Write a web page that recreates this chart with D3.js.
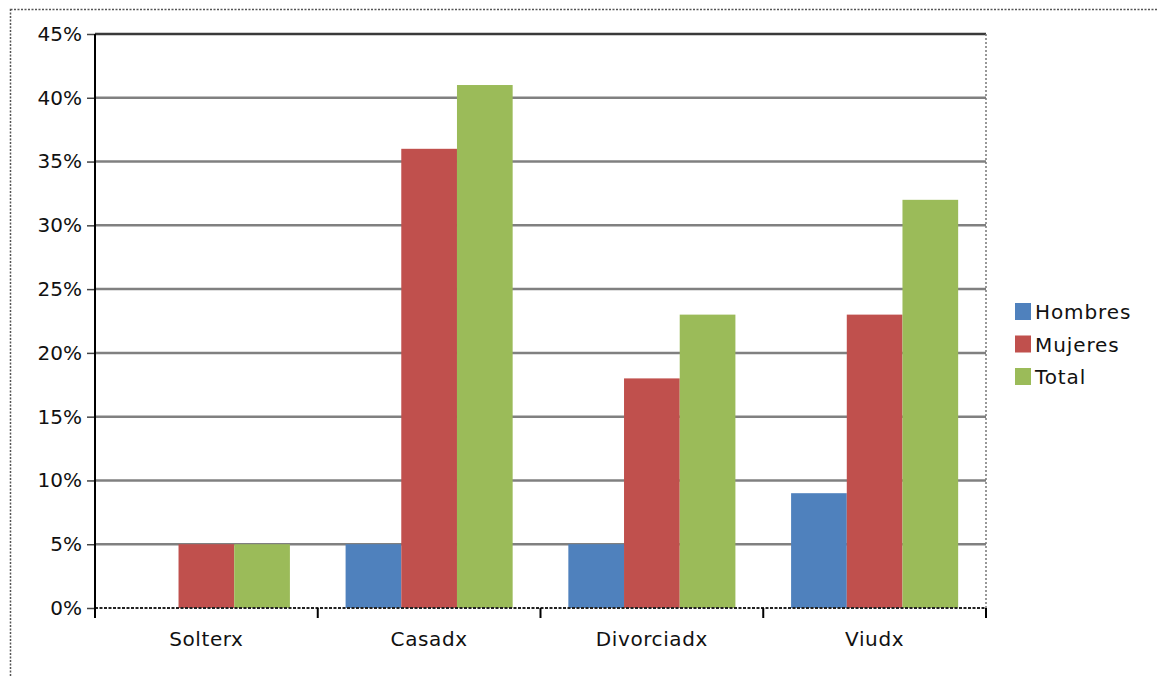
<!DOCTYPE html>
<html>
<head>
<meta charset="utf-8">
<script src="https://cdn.jsdelivr.net/npm/d3@7"></script>
<style>
  html, body { margin: 0; padding: 0; background: #fff; }
  svg { display: block; }
  text { font-family: "DejaVu Sans", Verdana, sans-serif; fill: #111; }
</style>
</head>
<body>
<svg id="chart" width="1157" height="677"></svg>
<script>
// Marital status categories and the share of each group, in percent
const categories = ["Solterx", "Casadx", "Divorciadx", "Viudx"];
const seriesNames = ["Hombres", "Mujeres", "Total"];
const hombres = [0, 5, 5, 9];
const mujeres = [5, 36, 18, 23];
const total   = [5, 41, 23, 32];
const yTicks  = [0, 5, 10, 15, 20, 25, 30, 35, 40, 45];
const colors  = ["#4F81BD", "#C0504D", "#9BBB59"];

const seriesValues = [hombres, mujeres, total];
const rows = categories.map((c, i) => ({
  category: c,
  values: seriesNames.map((s, j) => ({ series: s, value: seriesValues[j][i], color: colors[j] }))
}));

const svg = d3.select("#chart");
const plot = { left: 95, right: 986, top: 34, bottom: 608 };

// Outer chart frame (dotted)
svg.append("rect")
  .attr("x", 10.5).attr("y", 9.5)
  .attr("width", 1160).attr("height", 680)
  .attr("fill", "none")
  .attr("stroke", "#555")
  .attr("stroke-width", 1.5)
  .attr("stroke-dasharray", "2,1.5");

const x = d3.scaleBand()
  .domain(categories)
  .range([plot.left, plot.right])
  .paddingInner(0).paddingOuter(0);

const inner = d3.scaleBand()
  .domain(seriesNames)
  .range([x.bandwidth() / 8, x.bandwidth() * 7 / 8])
  .padding(0);

const y = d3.scaleLinear().domain([0, 45]).range([plot.bottom, plot.top]);

// Horizontal gridlines
svg.append("g")
  .selectAll("line")
  .data(yTicks.filter(t => t > 0))
  .join("line")
  .attr("x1", plot.left).attr("x2", plot.right)
  .attr("y1", d => y(d)).attr("y2", d => y(d))
  .attr("stroke", d => d === 45 ? "#3a3a3a" : "#808080")
  .attr("stroke-width", 2.5);

// Right edge of the plot area (dotted)
svg.append("line")
  .attr("x1", plot.right).attr("x2", plot.right)
  .attr("y1", plot.top).attr("y2", plot.bottom)
  .attr("stroke", "#777")
  .attr("stroke-width", 1.5)
  .attr("stroke-dasharray", "2,2");

// Bars
svg.append("g")
  .selectAll("g")
  .data(rows)
  .join("g")
  .attr("transform", d => `translate(${x(d.category)},0)`)
  .selectAll("rect")
  .data(d => d.values)
  .join("rect")
  .attr("x", d => inner(d.series))
  .attr("width", inner.bandwidth())
  .attr("y", d => y(d.value))
  .attr("height", d => y(0) - y(d.value))
  .attr("fill", d => d.color);

// Baseline (dotted)
svg.append("line")
  .attr("x1", plot.left).attr("x2", plot.right)
  .attr("y1", plot.bottom).attr("y2", plot.bottom)
  .attr("stroke", "#222")
  .attr("stroke-width", 2)
  .attr("stroke-dasharray", "3,1.5");

// Y axis
const yAxis = svg.append("g")
  .attr("transform", `translate(${plot.left},0)`)
  .call(d3.axisLeft(y).tickValues(yTicks).tickFormat(d => d + "%").tickSize(8).tickPadding(5));
yAxis.select(".domain").remove();
yAxis.selectAll(".tick line").attr("stroke", "#444").attr("stroke-width", 1.5);
yAxis.selectAll(".tick text")
  .attr("font-size", 20)
  .attr("font-family", "DejaVu Sans, Verdana, sans-serif")
  .attr("fill", "#111");
yAxis.append("line")
  .attr("x1", 0).attr("x2", 0)
  .attr("y1", plot.top).attr("y2", plot.bottom + 10)
  .attr("stroke", "#000").attr("stroke-width", 2);

// X axis tick marks at category boundaries
const bounds = categories.map(c => x(c) + x.bandwidth());
svg.append("g")
  .selectAll("line")
  .data(bounds)
  .join("line")
  .attr("x1", d => d).attr("x2", d => d)
  .attr("y1", plot.bottom).attr("y2", plot.bottom + 10)
  .attr("stroke", "#000").attr("stroke-width", 2);

// X category labels
svg.append("g")
  .selectAll("text")
  .data(categories)
  .join("text")
  .attr("x", d => x(d) + x.bandwidth() / 2)
  .attr("y", 646)
  .attr("text-anchor", "middle")
  .attr("font-size", 20)
  .attr("letter-spacing", 0.6)
  .text(d => d);

// Legend
const legend = svg.append("g").attr("transform", "translate(1015,303)");
const item = legend.selectAll("g")
  .data(seriesNames)
  .join("g")
  .attr("transform", (d, i) => `translate(0,${i * 32.5})`);
item.append("rect")
  .attr("width", 16).attr("height", 17)
  .attr("fill", (d, i) => colors[i]);
item.append("text")
  .attr("x", 20).attr("y", 16)
  .attr("font-size", 20)
  .attr("letter-spacing", 0.9)
  .text(d => d);
</script>
</body>
</html>
